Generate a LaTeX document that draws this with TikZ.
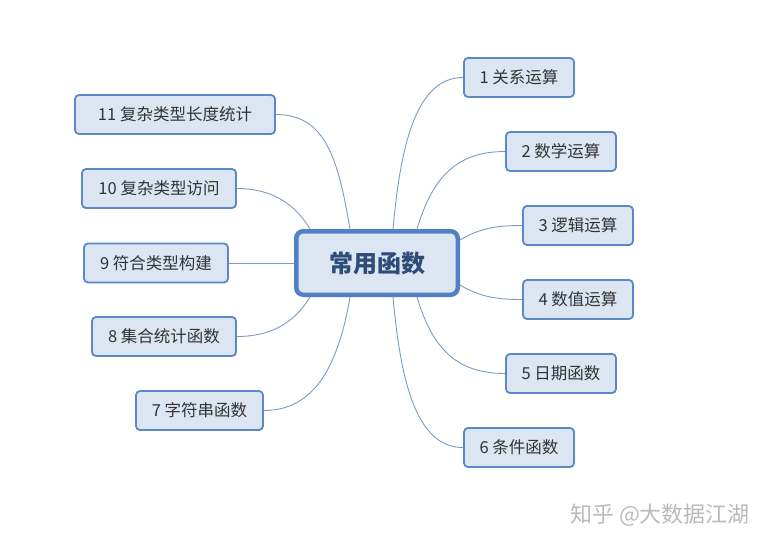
\documentclass[tikz,border=0pt]{standalone}
\usepackage{fontspec}
\setmainfont{Noto Sans CJK SC}
\usetikzlibrary{positioning,backgrounds}
\definecolor{boxfill}{HTML}{DCE6F2}
\definecolor{boxline}{HTML}{5B88C6}
\definecolor{hubline}{HTML}{4F81C4}
\definecolor{hubtext}{HTML}{2E4C77}
\definecolor{leaftext}{HTML}{333333}
\definecolor{linkline}{HTML}{7D9BC3}
\tikzset{hub/.style={rectangle,rounded corners=7pt,draw=hubline,line width=4.5pt,fill=boxfill,minimum width=161.5pt,minimum height=63.5pt,inner sep=0pt,text=hubtext,font=\fontsize{24pt}{27pt}\selectfont\bfseries},leaf/.style={rectangle,rounded corners=4pt,draw=boxline,line width=1.8pt,fill=boxfill,minimum width=110pt,minimum height=39pt,inner sep=0pt,text=leaftext,font=\fontsize{16.5pt}{19pt}\selectfont},link/.style={linkline,line width=.9pt},watermark/.style={text=black!27,font=\fontsize{22pt}{25pt}\selectfont},every picture/.style={line cap=round}}

\begin{document}
\begin{tikzpicture}[x=1pt,y=-1pt]
\useasboundingbox (0,0) rectangle (773,546);
\node[hub] (hub) at (377,263) {常用函数};
\foreach \n/\x/\y/\t in {r1/519/77.5/1 关系运算,r2/561/151.5/2 数学运算,r3/578/225.5/3 逻辑运算,r4/578/299.5/4 数值运算,r5/561/373.5/5 日期函数,r6/519/447.5/6 条件函数}{\node[leaf] (\n) at (\x,\y) {\t};}
\foreach \n/\x/\y/\w/\t in {l11/175/114.5/200/11 复杂类型长度统计,l10/159/188.5/154/10 复杂类型访问,l9/156/263/144/9 符合类型构建,l8/164/336.5/144/8 集合统计函数,l7/199.5/410.5/127/7 字符串函数}{\node[leaf,minimum width=\w pt] (\n) at (\x,\y) {\t};}
\begin{scope}[on background layer]
\draw[link] ([xshift=16pt]hub.north) .. controls +(8,-90) and +(-45,0) .. (r1.west);
\draw[link] ([xshift=40pt]hub.north) .. controls +(15,-50) and +(-50,0) .. (r2.west);
\draw[link] ([yshift=23pt]hub.east) .. controls +(20,-12) and +(-25,0) .. (r3.west);
\draw[link] ([yshift=-22pt]hub.east) .. controls +(20,12) and +(-25,0) .. (r4.west);
\draw[link] ([xshift=40pt]hub.south) .. controls +(15,50) and +(-50,0) .. (r5.west);
\draw[link] ([xshift=16pt]hub.south) .. controls +(8,90) and +(-45,0) .. (r6.west);
\draw[link] ([xshift=-27pt]hub.north) .. controls +(-12,-70) and +(50,0) .. (l11.east);
\draw[link] ([xshift=-67pt]hub.north) .. controls +(-15,-25) and +(35,0) .. (l10.east);
\draw[link] (hub.west) -- (l9.east);
\draw[link] ([xshift=-67pt]hub.south) .. controls +(-15,25) and +(35,0) .. (l8.east);
\draw[link] ([xshift=-27pt]hub.south) .. controls +(-12,70) and +(50,0) .. (l7.east);
\end{scope}
\node[watermark] (wm) at (660,515) {知乎 @大数据江湖};
\end{tikzpicture}
\end{document}
